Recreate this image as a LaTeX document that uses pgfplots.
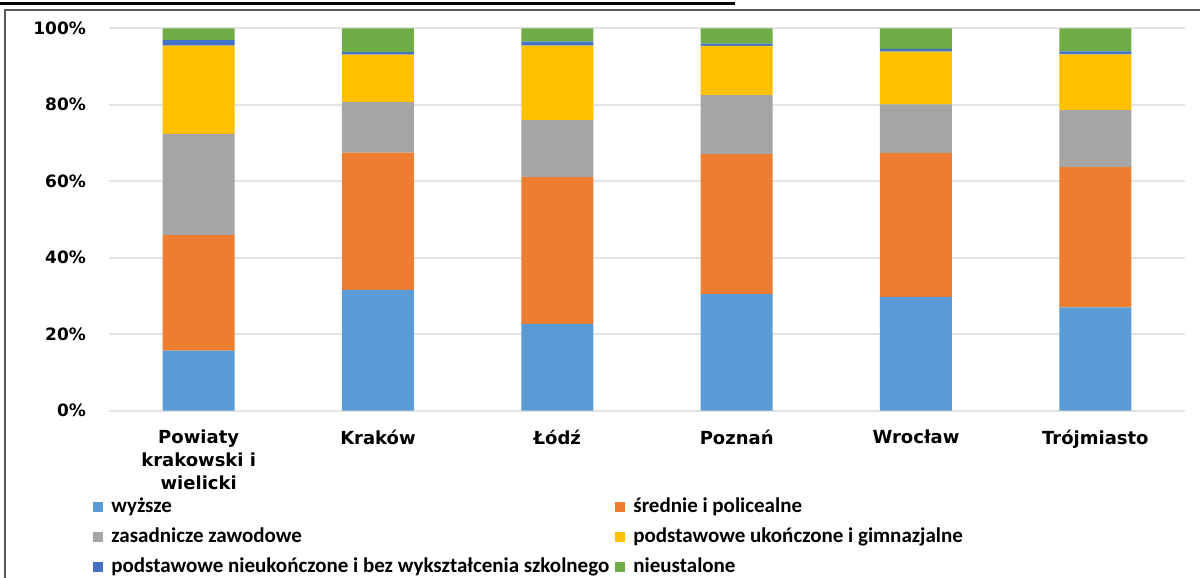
\documentclass[border=0pt]{standalone}
\usepackage{pgfplots}
\pgfplotsset{compat=1.18}
\usepackage{fontspec}
\setmainfont{DejaVu Sans}
\newfontfamily\dv{DejaVu Sans}
\newfontfamily\carl{Carlito}
\definecolor{cBlue}{HTML}{5B9BD5}
\definecolor{cOrange}{HTML}{ED7D31}
\definecolor{cGray}{HTML}{A5A5A5}
\definecolor{cYellow}{HTML}{FFC000}
\definecolor{cDBlue}{HTML}{4472C4}
\definecolor{cGreen}{HTML}{70AD47}
\definecolor{cGrid}{HTML}{E3E3E3}
\definecolor{cFrame}{HTML}{595959}
\begin{document}
\begin{tikzpicture}
\useasboundingbox (0pt,0pt) rectangle (600pt,-289pt);
% frame and clipped title underline
\draw[cFrame, line width=1pt] (2.5pt,-289pt) -- (2.5pt,-5pt) -- (600pt,-5pt);
\draw[black, line width=1.2pt] (0pt,-1.8pt) -- (367.5pt,-1.8pt);
\begin{axis}[
  at={(54.5pt,-205.35pt)}, anchor=south west,
  scale only axis,
  width=538pt, height=191.2pt,
  ybar stacked, bar width=36pt,
  xmin=-0.5, xmax=5.5,
  ymin=0, ymax=100,
  xtick=data,
  xticklabels={{Powiaty\\krakowski i\\wielicki},Kraków,Łódź,Poznań,Wrocław,Trójmiasto},
  ytick={0,20,40,60,80,100},
  yticklabels={0\%,20\%,40\%,60\%,80\%,100\%},
  major tick length=0pt,
  axis line style={draw=none},
  ymajorgrids, grid style={cGrid, line width=0.9pt},
  xticklabel style={font=\dv\bfseries\fontsize{9}{11.5}\selectfont, align=center, anchor=north, yshift=-6pt},
  yticklabel style={font=\dv\bfseries\fontsize{8.5}{10}\selectfont, anchor=east, xshift=-8pt},
  legend columns=2,
  legend cell align=left,
  legend image code/.code={\fill[#1, draw=none] (0pt,-2.5pt) rectangle (5pt,2.5pt);},
  legend style={at={(-0.0149,-0.222)}, anchor=north west, draw=none, fill=none, inner sep=0pt,
    font=\carl\bfseries\fontsize{10.5}{12}\selectfont,
    nodes={inner sep=1pt, text height=7pt, text depth=1.5pt},
    row sep=4.7pt,
    /tikz/every odd column/.append style={column sep=3pt}},
  every axis plot/.append style={draw=none},
]
\addplot+[fill=cBlue] coordinates {(0,15.7) (1,31.6) (2,22.7) (3,30.5) (4,29.8) (5,27.0)};
\addplot+[fill=cOrange] coordinates {(0,30.2) (1,35.9) (2,38.4) (3,36.6) (4,37.6) (5,36.7)};
\addplot+[fill=cGray] coordinates {(0,26.5) (1,13.2) (2,14.9) (3,15.4) (4,12.7) (5,14.9)};
\addplot+[fill=cYellow] coordinates {(0,23.1) (1,12.4) (2,19.5) (3,12.9) (4,13.8) (5,14.6)};
\addplot+[fill=cDBlue] coordinates {(0,1.4) (1,0.7) (2,1.0) (3,0.6) (4,0.7) (5,0.8)};
\addplot+[fill=cGreen] coordinates {(0,3.1) (1,6.2) (2,3.5) (3,4.0) (4,5.4) (5,6.0)};
\addlegendentry{\makebox[251pt][l]{wyższe}}
\addlegendentry{średnie i policealne}
\addlegendentry{\makebox[251pt][l]{zasadnicze zawodowe}}
\addlegendentry{podstawowe ukończone i gimnazjalne}
\addlegendentry{\makebox[251pt][l]{podstawowe nieukończone i bez wykształcenia szkolnego}}
\addlegendentry{nieustalone}
\end{axis}
\end{tikzpicture}
\end{document}
